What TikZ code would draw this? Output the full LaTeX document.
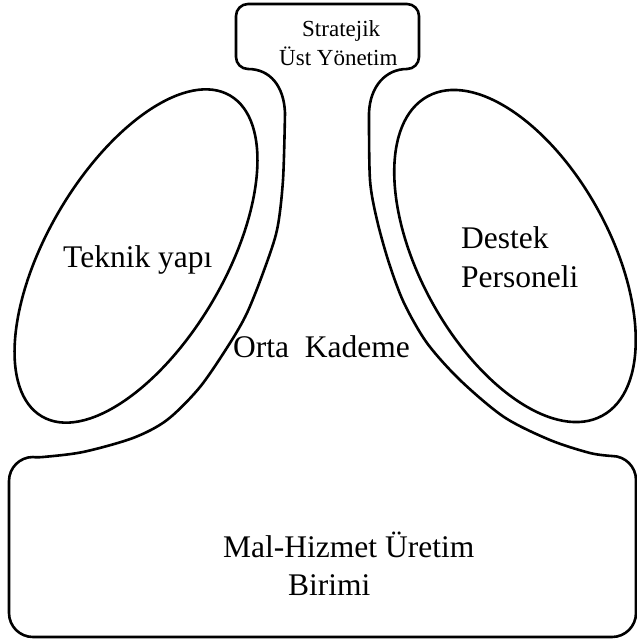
\documentclass[tikz,border=0pt]{standalone}
\usepackage{fontspec}
\setmainfont{Liberation Serif}
\begin{document}
\begin{tikzpicture}[x=1pt,y=-1pt,
  outline/.style={line width=2.6pt, line join=round},
  bigtxt/.style={inner sep=0pt, anchor=base west, font=\fontsize{31.5}{38}\selectfont},
  smalltxt/.style={inner sep=0pt, anchor=base west, font=\fontsize{23}{28}\selectfont}]
\useasboundingbox (0,0) rectangle (637,641);
% main outline
\draw[outline] (248,4) -- (407,4) arc[start angle=90, end angle=0, radius=12pt]
  -- (419,57) arc[start angle=0, end angle=-90, radius=12pt]
  .. controls (386,69) and (370,86) .. (369,113)
  -- plot[smooth] coordinates {(369,113) (370,180) (377,220) (389,263) (404,303) (427,343) (460,380) (504,417) (550,440) (590,453) (612,456)}
  arc[start angle=90, end angle=0, radius=24pt]
  -- (636,613) arc[start angle=0, end angle=-90, radius=24pt]
  -- (33,637) arc[start angle=-90, end angle=-180, radius=24pt]
  -- (9,481) arc[start angle=180, end angle=90, radius=24pt]
  -- plot[smooth] coordinates {(33,457) (43,457) (83,452) (133,438) (167,420) (200,387) (230,343) (247,313) (263,273) (277,230) (283,180) (285,113)}
  .. controls (284,86) and (270,69) .. (248,69)
  arc[start angle=-90, end angle=-180, radius=12pt]
  -- (236,16) arc[start angle=180, end angle=90, radius=12pt] -- cycle;
% ellipses
\begin{scope}[shift={(136,256)}, rotate=59.6]
  \draw[outline] (0,0) ellipse [x radius=186pt, y radius=89pt];
\end{scope}
\begin{scope}[shift={(515,256)}, rotate=-61.3]
  \draw[outline] (0,0) ellipse [x radius=182pt, y radius=95pt];
\end{scope}
% texts
\node[smalltxt] (s1) at (302,36) {Stratejik};
\node[smalltxt] (s2) at (279,65) {Üst Yönetim};
\node[bigtxt] (tek) at (63,267) {Teknik yapı};
\node[bigtxt] (orta) at (233,357) {Orta\ \ Kademe};
\node[bigtxt] (d1) at (461,248) {Destek};
\node[bigtxt] (d2) at (461,287) {Personeli};
\node[bigtxt] (m1) at (223,557) {Mal-Hizmet Üretim};
\node[bigtxt] (m2) at (288,595) {Birimi};
\end{tikzpicture}
\end{document}
